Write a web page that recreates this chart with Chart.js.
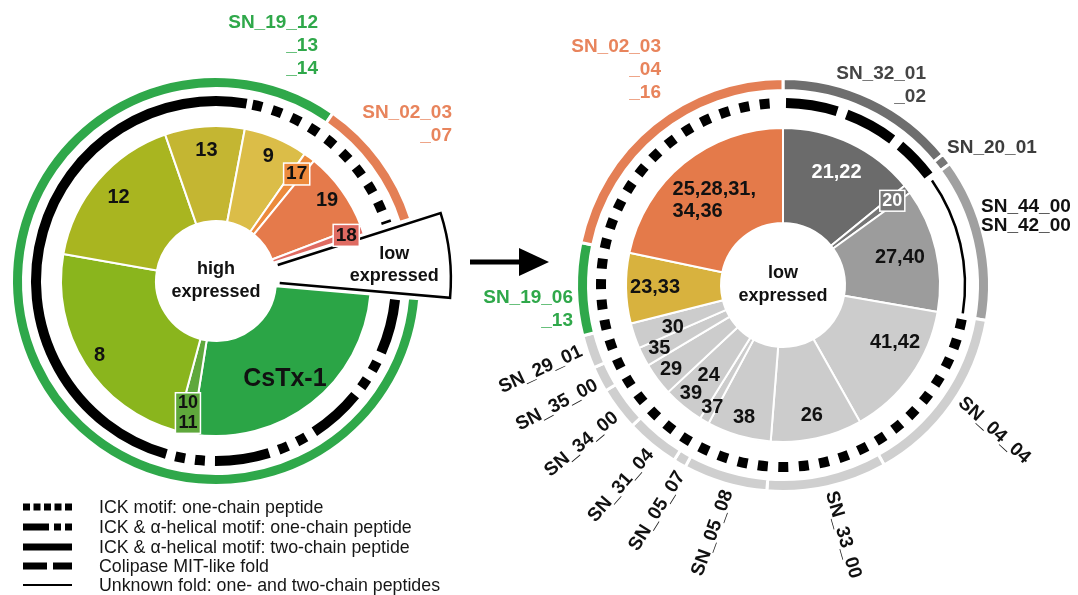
<!DOCTYPE html>
<html>
<head>
<meta charset="utf-8">
<script src="https://cdn.jsdelivr.net/npm/chart.js@4.4.1/dist/chart.umd.min.js"></script>
<style>
  html, body { margin: 0; padding: 0; background: #fff; }
  #page { position: relative; width: 1078px; height: 595px; overflow: hidden;
          font-family: "Liberation Sans", Arial, sans-serif; }
  .layer { position: absolute; left: 0; top: 0; width: 1078px; height: 595px; }
  .lg { position: absolute; left: 99px; font-size: 17.8px; line-height: 20px; white-space: nowrap; color: #161616; }
</style>
</head>
<body>
<div id="page">
  <div class="layer"><canvas id="highChart"></canvas></div>
  <div class="layer"><canvas id="lowChart"></canvas></div>
  <canvas id="deco" class="layer" width="1078" height="595"></canvas>
  <div id="legendText"></div>
</div>
<script>
// ---- data: high expressed peptides (left), clockwise from the cut-out wedge
const highLabels = ["low\nexpressed", "CsTx-1", "10\n11", "8", "12", "13", "9", "17", "19", "18"];
const highShare  = [6.3, 26.1, 1.7, 23.6, 16.9, 8.3, 6.7, 1.2, 8.3, 0.9];
const highFold   = [null, "ickHelixOne", "ickHelixOne", "ickHelixTwo", "ickHelixTwo", "ickHelixTwo", "ick", "ick", "ick", "ick"];
const highFamilies = ["SN_19_12\n_13\n_14", "SN_02_03\n_07"];
const highFamilyOf = [-1, 0, 0, 0, 0, 0, 0, 1, 1, 1];

// ---- data: low expressed peptides (right), clockwise from 12 o'clock
const lowLabels = ["21,22", "20", "27,40", "41,42", "26", "38", "37", "24/39", "29", "35", "30", "23,33", "25,28,31,\n34,36"];
const lowShare  = [14.1, 0.9, 12.75, 14.1, 9.4, 6.6, 1.0, 4.2, 3.4, 2.0, 2.6, 7.25, 21.7];
const lowFold   = ["colipase", "colipase", "unknown", "ick", "ick", "ick", "ick", "ick", "ick", "ick", "ick", "ick", "ick"];
const lowFamilies = ["SN_32_01\n_02", "SN_20_01", "SN_44_00\nSN_42_00", "SN_04_04", "SN_33_00", "SN_05_08",
                     "SN_05_07", "SN_31_04", "SN_34_00", "SN_35_00", "SN_29_01", "SN_19_06\n_13", "SN_02_03\n_04\n_16"];
const lowFamilyOf = [0, 1, 2, 3, 4, 5, 6, 7, 8, 9, 10, 11, 12];

// legend
const foldKeys  = ["ick", "ickHelixOne", "ickHelixTwo", "colipase", "unknown"];
const foldNames = ["ICK motif: one-chain peptide", "ICK & \u03b1-helical motif: one-chain peptide",
                   "ICK & \u03b1-helical motif: two-chain peptide", "Colipase MIT-like fold",
                   "Unknown fold: one- and two-chain peptides"];

// ---- styles
const FONT = '"Liberation Sans", Arial, sans-serif';
const GREEN = "#2fa84a", ORANGE = "#e47f55";
const foldStyles = {
  ick:         { width: 10, dash: [10, 10.5] },
  ickHelixOne: { width: 10, dash: [55, 10, 10, 10, 10, 10] },
  ickHelixTwo: { width: 10, dash: [] },
  colipase:    { width: 10, dash: [52, 10] },
  unknown:     { width: 2.5, dash: [] }
};
const legendStyles = {
  ick:         { width: 7, dash: [7, 3.5] },
  ickHelixOne: { width: 7, dash: [26, 5, 7, 4, 7, 60] },
  ickHelixTwo: { width: 7, dash: [] },
  colipase:    { width: 7, dash: [24, 6] },
  unknown:     { width: 2, dash: [] }
};

const highCfg = {
  id: "high", rotation: 72.3, radius: 204.5, cutout: (60 / 204.5 * 100) + "%",
  padding: { left: 0, right: 646, top: 0, bottom: 33 },
  labels: highLabels, share: highShare, fold: highFold, families: highFamilies, familyOf: highFamilyOf,
  colors: ["rgba(0,0,0,0)", "#2ba546", "#5fa83c", "#8ab51d", "#a9b520", "#c4b632", "#dbbd48", "#ec8a3c", "#e57a4b", "#df6b62"],
  familyColors: [GREEN, ORANGE],
  center: "high\nexpressed",
  labelStyle: [
    { skip: true },
    { r: 120, da: 3, size: 25 },
    { r: 135, box: true, size: 18 },
    { r: 138 }, { r: 128 }, { r: 131 }, { r: 135 },
    { r: 134, box: true, size: 19 },
    { r: 137 },
    { r: 138, box: true, size: 19 }
  ],
  familyStyle: [
    { x: 318, y: 23, align: "right", color: GREEN },
    { x: 452, y: 113, align: "right", color: "#e8845c" }
  ],
  wedge: { index: 0, offset: 18, inner: 46, outer: 217, labelR: 161, labelDa: 1.5 }
};

const lowCfg = {
  id: "low", rotation: 0, radius: 206.5, cutout: (62 / 206.5 * 100) + "%",
  padding: { left: 488, right: 0, top: 0, bottom: 25 },
  labels: lowLabels, share: lowShare, fold: lowFold, families: lowFamilies, familyOf: lowFamilyOf,
  colors: ["#6b6b6b", "#767676", "#9c9c9c", "#cccccc", "#cccccc", "#cccccc", "#cccccc", "#cccccc",
           "#cccccc", "#cccccc", "#cccccc", "#d8b23e", "#e47a4a"],
  familyColors: ["#6e6e6e", "#777777", "#a0a0a0", "#cfcfcf", "#cfcfcf", "#cfcfcf", "#cfcfcf", "#cfcfcf",
                 "#cfcfcf", "#cfcfcf", "#cfcfcf", GREEN, ORANGE],
  center: "low\nexpressed",
  labelStyle: [
    { r: 125, color: "#fff" },
    { r: 138, box: true, color: "#fff", size: 18 },
    { r: 120 }, { r: 126, da: -8 }, { r: 134 }, { r: 138 }, { r: 141 },
    { parts: [{ r: 117, da: 0 }, { r: 142, da: 1 }] },
    { r: 140 }, { r: 139 }, { r: 118, da: -2 }, { r: 128 },
    { r: 109, left: true }
  ],
  familyStyle: [
    { x: 926, y: 74, align: "right", color: "#454545" },
    { x: 947, y: 148, align: "left", color: "#3d3d3d" },
    { x: 981, y: 207, align: "left", color: "#111", lh: 19 },
    { theta: 123, r: 212, rot: 42, align: "left" },
    { theta: 167, r: 212, rot: 74, align: "left" },
    { theta: 195, r: 213, rot: -70, align: "right" },
    { theta: 208.5, r: 214, rot: -58, align: "right" },
    { theta: 218.5, r: 213, rot: -49, align: "right" },
    { theta: 232, r: 212, rot: -40, align: "right" },
    { theta: 242, r: 211, rot: -28, align: "right" },
    { theta: 252, r: 212, rot: -25, align: "right" },
    { x: 573, y: 298, align: "right", color: GREEN },
    { x: 661, y: 47, align: "right", color: "#e8845c" }
  ]
};

// merge neighbouring slices that share a key into one ring segment
function runs(values, keys) {
  const out = [];
  values.forEach((v, i) => {
    const k = keys[i];
    const last = out[out.length - 1];
    if (last && last.key === k) last.value += v;
    else out.push({ key: k, value: v });
  });
  return out;
}

function textLines(ctx, text, x, y, opt) {
  const lines = text.split("\n");
  const lh = opt.lh || opt.size * 1.15;
  ctx.font = "bold " + opt.size + "px " + FONT;
  ctx.fillStyle = opt.color || "#111";
  ctx.textBaseline = "middle";
  let x0 = x, align = opt.align || "center";
  if (opt.left) {
    const w = Math.max(...lines.map(l => ctx.measureText(l).width));
    x0 = x - w / 2; align = "left";
  }
  ctx.textAlign = align;
  const y0 = opt.top ? y : y - (lines.length - 1) * lh / 2;
  lines.forEach((l, i) => ctx.fillText(l, x0, y0 + i * lh));
}

function makePlugin(cfg) {
  return {
    id: "rings_" + cfg.id,
    afterDatasetsDraw(chart) {
      const ctx = chart.ctx;
      const props = el => el.getProps(["x", "y", "startAngle", "endAngle", "innerRadius", "outerRadius"], true);

      // fold ring
      chart.getDatasetMeta(2).data.forEach((el, i) => {
        const key = cfg.foldRuns[i].key;
        if (!key) return;
        const st = foldStyles[key], p = props(el);
        const rm = (p.innerRadius + p.outerRadius) / 2, pad = 3 / rm;
        ctx.save();
        ctx.beginPath();
        ctx.arc(p.x, p.y, rm, p.startAngle + pad, p.endAngle - pad);
        ctx.lineWidth = st.width;
        ctx.setLineDash(st.dash);
        ctx.lineCap = "butt";
        ctx.strokeStyle = "#000";
        ctx.stroke();
        ctx.restore();
      });

      const pie = chart.getDatasetMeta(4).data;
      const c = props(pie[0]);

      // exploded wedge
      if (cfg.wedge) {
        const w = cfg.wedge, p = props(pie[w.index]);
        const mid = (p.startAngle + p.endAngle) / 2;
        const ox = p.x + Math.cos(mid) * w.offset, oy = p.y + Math.sin(mid) * w.offset;
        const pt = (a, r) => [ox + Math.cos(a) * r, oy + Math.sin(a) * r];
        ctx.save();
        ctx.beginPath();
        ctx.moveTo(...pt(p.startAngle, w.inner));
        ctx.lineTo(...pt(p.startAngle, w.outer));
        ctx.arc(ox, oy, w.outer, p.startAngle, p.endAngle);
        ctx.lineTo(...pt(p.endAngle, w.inner));
        ctx.arc(ox, oy, w.inner, p.endAngle, p.startAngle, true);
        ctx.closePath();
        ctx.fillStyle = "#fff";
        ctx.fill();
        ctx.beginPath();
        ctx.moveTo(...pt(p.startAngle, w.inner));
        ctx.lineTo(...pt(p.startAngle, w.outer));
        ctx.arc(ox, oy, w.outer, p.startAngle, p.endAngle);
        ctx.lineTo(...pt(p.endAngle, w.inner));
        ctx.lineWidth = 2.5;
        ctx.strokeStyle = "#000";
        ctx.stroke();
        const lp = pt(mid + w.labelDa * Math.PI / 180, w.labelR);
        textLines(ctx, cfg.labels[w.index], lp[0], lp[1], { size: 18, lh: 22 });
        ctx.restore();
      }

      // slice labels
      pie.forEach((el, i) => {
        const st = cfg.labelStyle[i];
        if (st.skip) return;
        const p = props(el);
        const mid = (p.startAngle + p.endAngle) / 2;
        const parts = st.parts ? cfg.labels[i].split("/").map((t, k) => Object.assign({ text: t }, st.parts[k]))
                               : [Object.assign({ text: cfg.labels[i] }, st)];
        parts.forEach(q => {
          const a = mid + (q.da || 0) * Math.PI / 180;
          const x = p.x + Math.cos(a) * q.r, y = p.y + Math.sin(a) * q.r;
          const size = st.size || 20;
          ctx.save();
          if (st.box) {
            ctx.font = "bold " + size + "px " + FONT;
            const lines = q.text.split("\n");
            const bw = Math.max(...lines.map(l => ctx.measureText(l).width)) + 5;
            const bh = lines.length * size * 1.1 + 1;
            ctx.fillStyle = cfg.colors[i];
            ctx.fillRect(x - bw / 2, y - bh / 2, bw, bh);
            ctx.lineWidth = 1.5;
            ctx.strokeStyle = "#fff";
            ctx.strokeRect(x - bw / 2, y - bh / 2, bw, bh);
          }
          textLines(ctx, q.text, x, y, { size: size, color: st.color, left: st.left, lh: size * 1.1 });
          ctx.restore();
        });
      });

      // centre text
      ctx.save();
      textLines(ctx, cfg.center, c.x, c.y, { size: 18, lh: 23 });
      ctx.restore();

      // gene family labels
      chart.getDatasetMeta(0).data.forEach((el, i) => {
        const key = cfg.familyRuns[i].key;
        if (key < 0) return;
        const st = cfg.familyStyle[key];
        const text = cfg.families[key];
        ctx.save();
        if (st.rot !== undefined) {
          const a = (st.theta - 90) * Math.PI / 180;
          ctx.translate(c.x + Math.cos(a) * st.r, c.y + Math.sin(a) * st.r);
          ctx.rotate(st.rot * Math.PI / 180);
          textLines(ctx, text, 0, 0, { size: 19, align: st.align, color: st.color || "#111" });
        } else {
          textLines(ctx, text, st.x, st.y, { size: 19, align: st.align, color: st.color, top: true, lh: st.lh || 23 });
        }
        ctx.restore();
      });
    }
  };
}

function buildChart(canvasId, cfg) {
  cfg.familyRuns = runs(cfg.share, cfg.familyOf);
  cfg.foldRuns = runs(cfg.share, cfg.fold);
  const clear = "rgba(0,0,0,0)";
  return new Chart(document.getElementById(canvasId), {
    type: "doughnut",
    data: {
      labels: cfg.labels,
      datasets: [
        { data: cfg.familyRuns.map(r => r.value),
          backgroundColor: cfg.familyRuns.map(r => r.key < 0 ? clear : cfg.familyColors[r.key]),
          borderColor: "#fff", borderWidth: cfg.familyRuns.map(r => r.key < 0 ? 0 : 3), weight: 12 },
        { data: [1], backgroundColor: clear, borderWidth: 0, weight: 7.5 },
        { data: cfg.foldRuns.map(r => r.value), backgroundColor: clear, borderWidth: 0, weight: 10 },
        { data: [1], backgroundColor: clear, borderWidth: 0, weight: 20 },
        { data: cfg.share, backgroundColor: cfg.colors, borderColor: "#fff",
          borderWidth: cfg.colors.map(col => col === clear ? 0 : 2), weight: 95 }
      ]
    },
    options: {
      responsive: true,
      maintainAspectRatio: false,
      animation: false,
      events: [],
      rotation: cfg.rotation,
      radius: cfg.radius,
      cutout: cfg.cutout,
      clip: false,
      hoverOffset: 0,
      layout: { padding: cfg.padding },
      plugins: { legend: { display: false }, tooltip: { enabled: false } }
    },
    plugins: [makePlugin(cfg)]
  });
}

buildChart("highChart", highCfg);
buildChart("lowChart", lowCfg);

// arrow and legend line samples
const deco = document.getElementById("deco").getContext("2d");
deco.fillStyle = "#000";
deco.fillRect(470, 259.5, 52, 5);
deco.beginPath();
deco.moveTo(519, 248); deco.lineTo(549, 262); deco.lineTo(519, 276); deco.closePath();
deco.fill();

const legendRows = [507, 527, 547, 566, 585];
const legendBox = document.getElementById("legendText");
foldKeys.forEach((k, i) => {
  const st = legendStyles[k];
  deco.save();
  deco.beginPath();
  deco.moveTo(23, legendRows[i]);
  deco.lineTo(72, legendRows[i]);
  deco.lineWidth = st.width;
  deco.setLineDash(st.dash);
  deco.strokeStyle = "#000";
  deco.stroke();
  deco.restore();
  const d = document.createElement("div");
  d.className = "lg";
  d.style.top = (legendRows[i] - 10) + "px";
  d.textContent = foldNames[i];
  legendBox.appendChild(d);
});
</script>
</body>
</html>
